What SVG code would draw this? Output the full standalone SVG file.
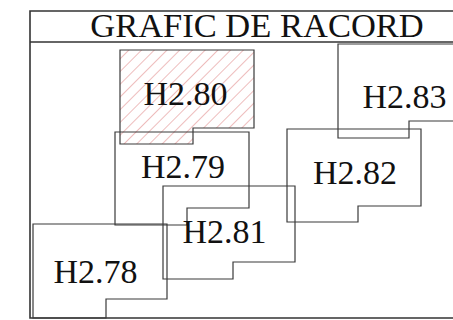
<svg xmlns="http://www.w3.org/2000/svg" width="453" height="320" viewBox="0 0 453 320">
<style>
.frame{fill:none;stroke:#333;stroke-width:1.6}
.room{fill:none;stroke:#3a3a3a;stroke-width:1.2}
.hatched{fill:url(#hatch);stroke:#3a3a3a;stroke-width:1.2}
.lbl{font-family:"Liberation Serif","Times New Roman",serif;font-size:34px;fill:#111;text-anchor:middle}
.title{font-family:"Liberation Serif","Times New Roman",serif;font-size:34.5px;fill:#111;text-anchor:middle}
</style>
<defs>
<pattern id="hatch" patternUnits="userSpaceOnUse" width="9" height="9" patternTransform="rotate(45)">
<line x1="0" y1="0" x2="0" y2="9" stroke="#e08585" stroke-width="1.1"/>
</pattern>
</defs>
<rect width="453" height="320" fill="#fff"/>
<g id="frame">
<path class="frame" d="M460,11 H30 V318 H460"/>
<line class="frame" x1="30" y1="42" x2="460" y2="42"/>
<text class="title" x="257" y="37">GRAFIC DE RACORD</text>
</g>
<g id="H2.80">
<path class="hatched" d="M120,50 H254 V128 H193 V144 H120 Z"/>
<text class="lbl" x="185.5" y="105">H2.80</text>
</g>
<g id="H2.83">
<path class="room" d="M460,44 H338 V138 H409 V121 H460"/>
<text class="lbl" x="404.5" y="108">H2.83</text>
</g>
<g id="H2.79">
<path class="room" d="M115,132 H249 V208 H187 V225 H115 Z"/>
<text class="lbl" x="183" y="178">H2.79</text>
</g>
<g id="H2.82">
<path class="room" d="M287,129 H421 V206 H358 V222 H287 Z"/>
<text class="lbl" x="355" y="184">H2.82</text>
</g>
<g id="H2.81">
<path class="room" d="M163,186 H295 V262 H233 V279 H163 Z"/>
<text class="lbl" x="224.5" y="243">H2.81</text>
</g>
<g id="H2.78">
<path class="room" d="M33,224 H167 V299 H106 V318 H33 Z"/>
<text class="lbl" x="95.5" y="283">H2.78</text>
</g>
<g id="connectors"></g>
</svg>
